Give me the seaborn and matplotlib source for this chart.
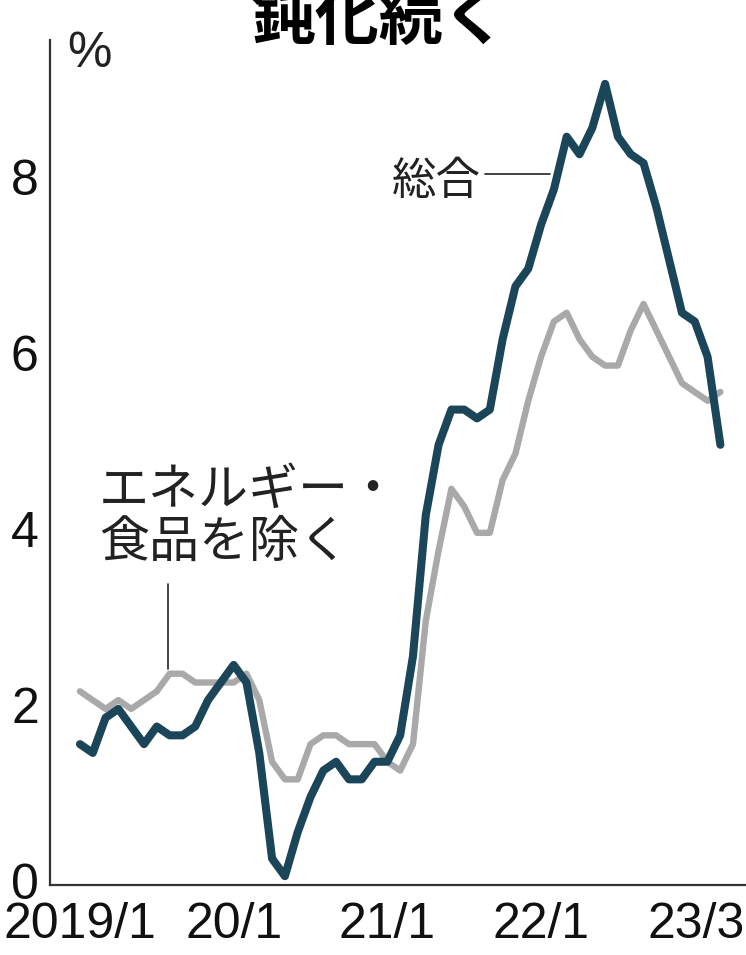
# =========================================
# IMPORTS
# =========================================
import numpy as np
import pandas as pd
import matplotlib
matplotlib.use("Agg")
import matplotlib.pyplot as plt
import matplotlib.transforms as mtransforms
import seaborn as sns


# =========================================
# DATA  (US CPI, y/y %, 2019/1 - 2023/3)
# =========================================
MONTH_INDEX = list(range(51))

HEADLINE = [
    1.6, 1.5, 1.9, 2.0, 1.8, 1.6, 1.8, 1.7, 1.7, 1.8, 2.1, 2.3,
    2.5, 2.3, 1.5, 0.3, 0.1, 0.6, 1.0, 1.3, 1.4, 1.2, 1.2, 1.4,
    1.4, 1.7, 2.6, 4.2, 5.0, 5.4, 5.4, 5.3, 5.4, 6.2, 6.8, 7.0,
    7.5, 7.9, 8.5, 8.3, 8.6, 9.1, 8.5, 8.3, 8.2, 7.7, 7.1, 6.5,
    6.4, 6.0, 5.0,
]

CORE = [
    2.2, 2.1, 2.0, 2.1, 2.0, 2.1, 2.2, 2.4, 2.4, 2.3, 2.3, 2.3,
    2.3, 2.4, 2.1, 1.4, 1.2, 1.2, 1.6, 1.7, 1.7, 1.6, 1.6, 1.6,
    1.4, 1.3, 1.6, 3.0, 3.8, 4.5, 4.3, 4.0, 4.0, 4.6, 4.9, 5.5,
    6.0, 6.4, 6.5, 6.2, 6.0, 5.9, 5.9, 6.3, 6.6, 6.3, 6.0, 5.7,
    5.6, 5.5, 5.6,
]

X_TICKS = [0, 12, 24, 36, 50]
X_TICK_LABELS = ["2019/1", "20/1", "21/1", "22/1", "23/3"]
Y_TICKS = [0, 2, 4, 6, 8]

SERIES_NAMES = ["総合", "エネルギー・食品を除く"]


# =========================================
# STYLE
# =========================================
DARK = "#1b4558"
GRAY = "#a9a9a9"
INK = "#222222"
JP_FONT = ["Noto Sans CJK JP", "DejaVu Sans"]
NUM_FONT = ["Liberation Sans", "DejaVu Sans"]

sns.set_style("white")
plt.rcParams["font.family"] = JP_FONT


# =========================================
# PLOT
# =========================================
def build_frame():
    frames = []
    for name, values in zip(SERIES_NAMES, [HEADLINE, CORE]):
        frames.append(pd.DataFrame({"month": MONTH_INDEX, "value": values, "series": name}))
    return pd.concat(frames, ignore_index=True)


def main():
    df = build_frame()

    fig = plt.figure(figsize=(7.46, 9.55), dpi=100)
    ax = fig.add_axes([0.067, 0.0733, 0.933, 0.885])

    # gray core first, headline on top
    sns.lineplot(data=df[df["series"] == SERIES_NAMES[1]], x="month", y="value",
                 color=GRAY, linewidth=4.6, ax=ax, legend=False,
                 solid_joinstyle="round", solid_capstyle="round")
    sns.lineplot(data=df[df["series"] == SERIES_NAMES[0]], x="month", y="value",
                 color=DARK, linewidth=5.8, ax=ax, legend=False,
                 solid_joinstyle="round", solid_capstyle="round")

    ax.set_xlim(-2.34, 52.0)
    ax.set_ylim(0, 9.6)
    ax.set_xlabel("")
    ax.set_ylabel("")

    for side in ["top", "right"]:
        ax.spines[side].set_visible(False)
    for side in ["left", "bottom"]:
        ax.spines[side].set_color("#333333")
        ax.spines[side].set_linewidth(1.6)

    ax.set_xticks(X_TICKS)
    ax.set_xticklabels(X_TICK_LABELS)
    ax.set_yticks(Y_TICKS)
    ax.tick_params(axis="both", direction="in", length=9, width=1.4,
                   color="#333333", labelsize=36)
    ax.tick_params(axis="x", pad=12)
    ax.tick_params(axis="y", pad=8)
    for lbl in ax.get_xticklabels() + ax.get_yticklabels():
        lbl.set_family(NUM_FONT)
        lbl.set_color("#111111")

    # y labels sit a little above their ticks in the source
    up = mtransforms.ScaledTranslation(0, 4 / 100, fig.dpi_scale_trans)
    for lbl in ax.get_yticklabels():
        lbl.set_transform(lbl.get_transform() + up)

    # last x label pulled inside the frame
    last = ax.get_xticklabels()[-1]
    last.set_horizontalalignment("right")
    last.set_transform(last.get_transform()
                       + mtransforms.ScaledTranslation(24 / 100, 0, fig.dpi_scale_trans))

    # unit label
    ax.text(-1.0, 9.7, "%", fontsize=36, family=NUM_FONT, ha="left", va="top",
            color=INK)

    # series labels + leader lines
    ax.text(31.3, 8.0, SERIES_NAMES[0], fontsize=32, ha="right", va="center",
            color=INK)
    ax.plot([31.6, 36.7], [8.08, 8.08], color=INK, linewidth=1.2)

    ax.text(1.5, 4.18, "エネルギー・\n食品を除く", fontsize=36, ha="left",
            va="center", color=INK, linespacing=1.0)
    ax.plot([6.9, 6.9], [3.42, 2.45], color=INK, linewidth=1.2)

    # title (cut at top, as in the source)
    fig.text(0.508, 0.945, "鈍化続く", fontsize=46, fontweight="bold",
             ha="center", va="bottom", color="black")

    fig.savefig("out.png", dpi=100, facecolor="white")


# =========================================
# ENTRY POINT
# =========================================
if __name__ == "__main__":
    main()
